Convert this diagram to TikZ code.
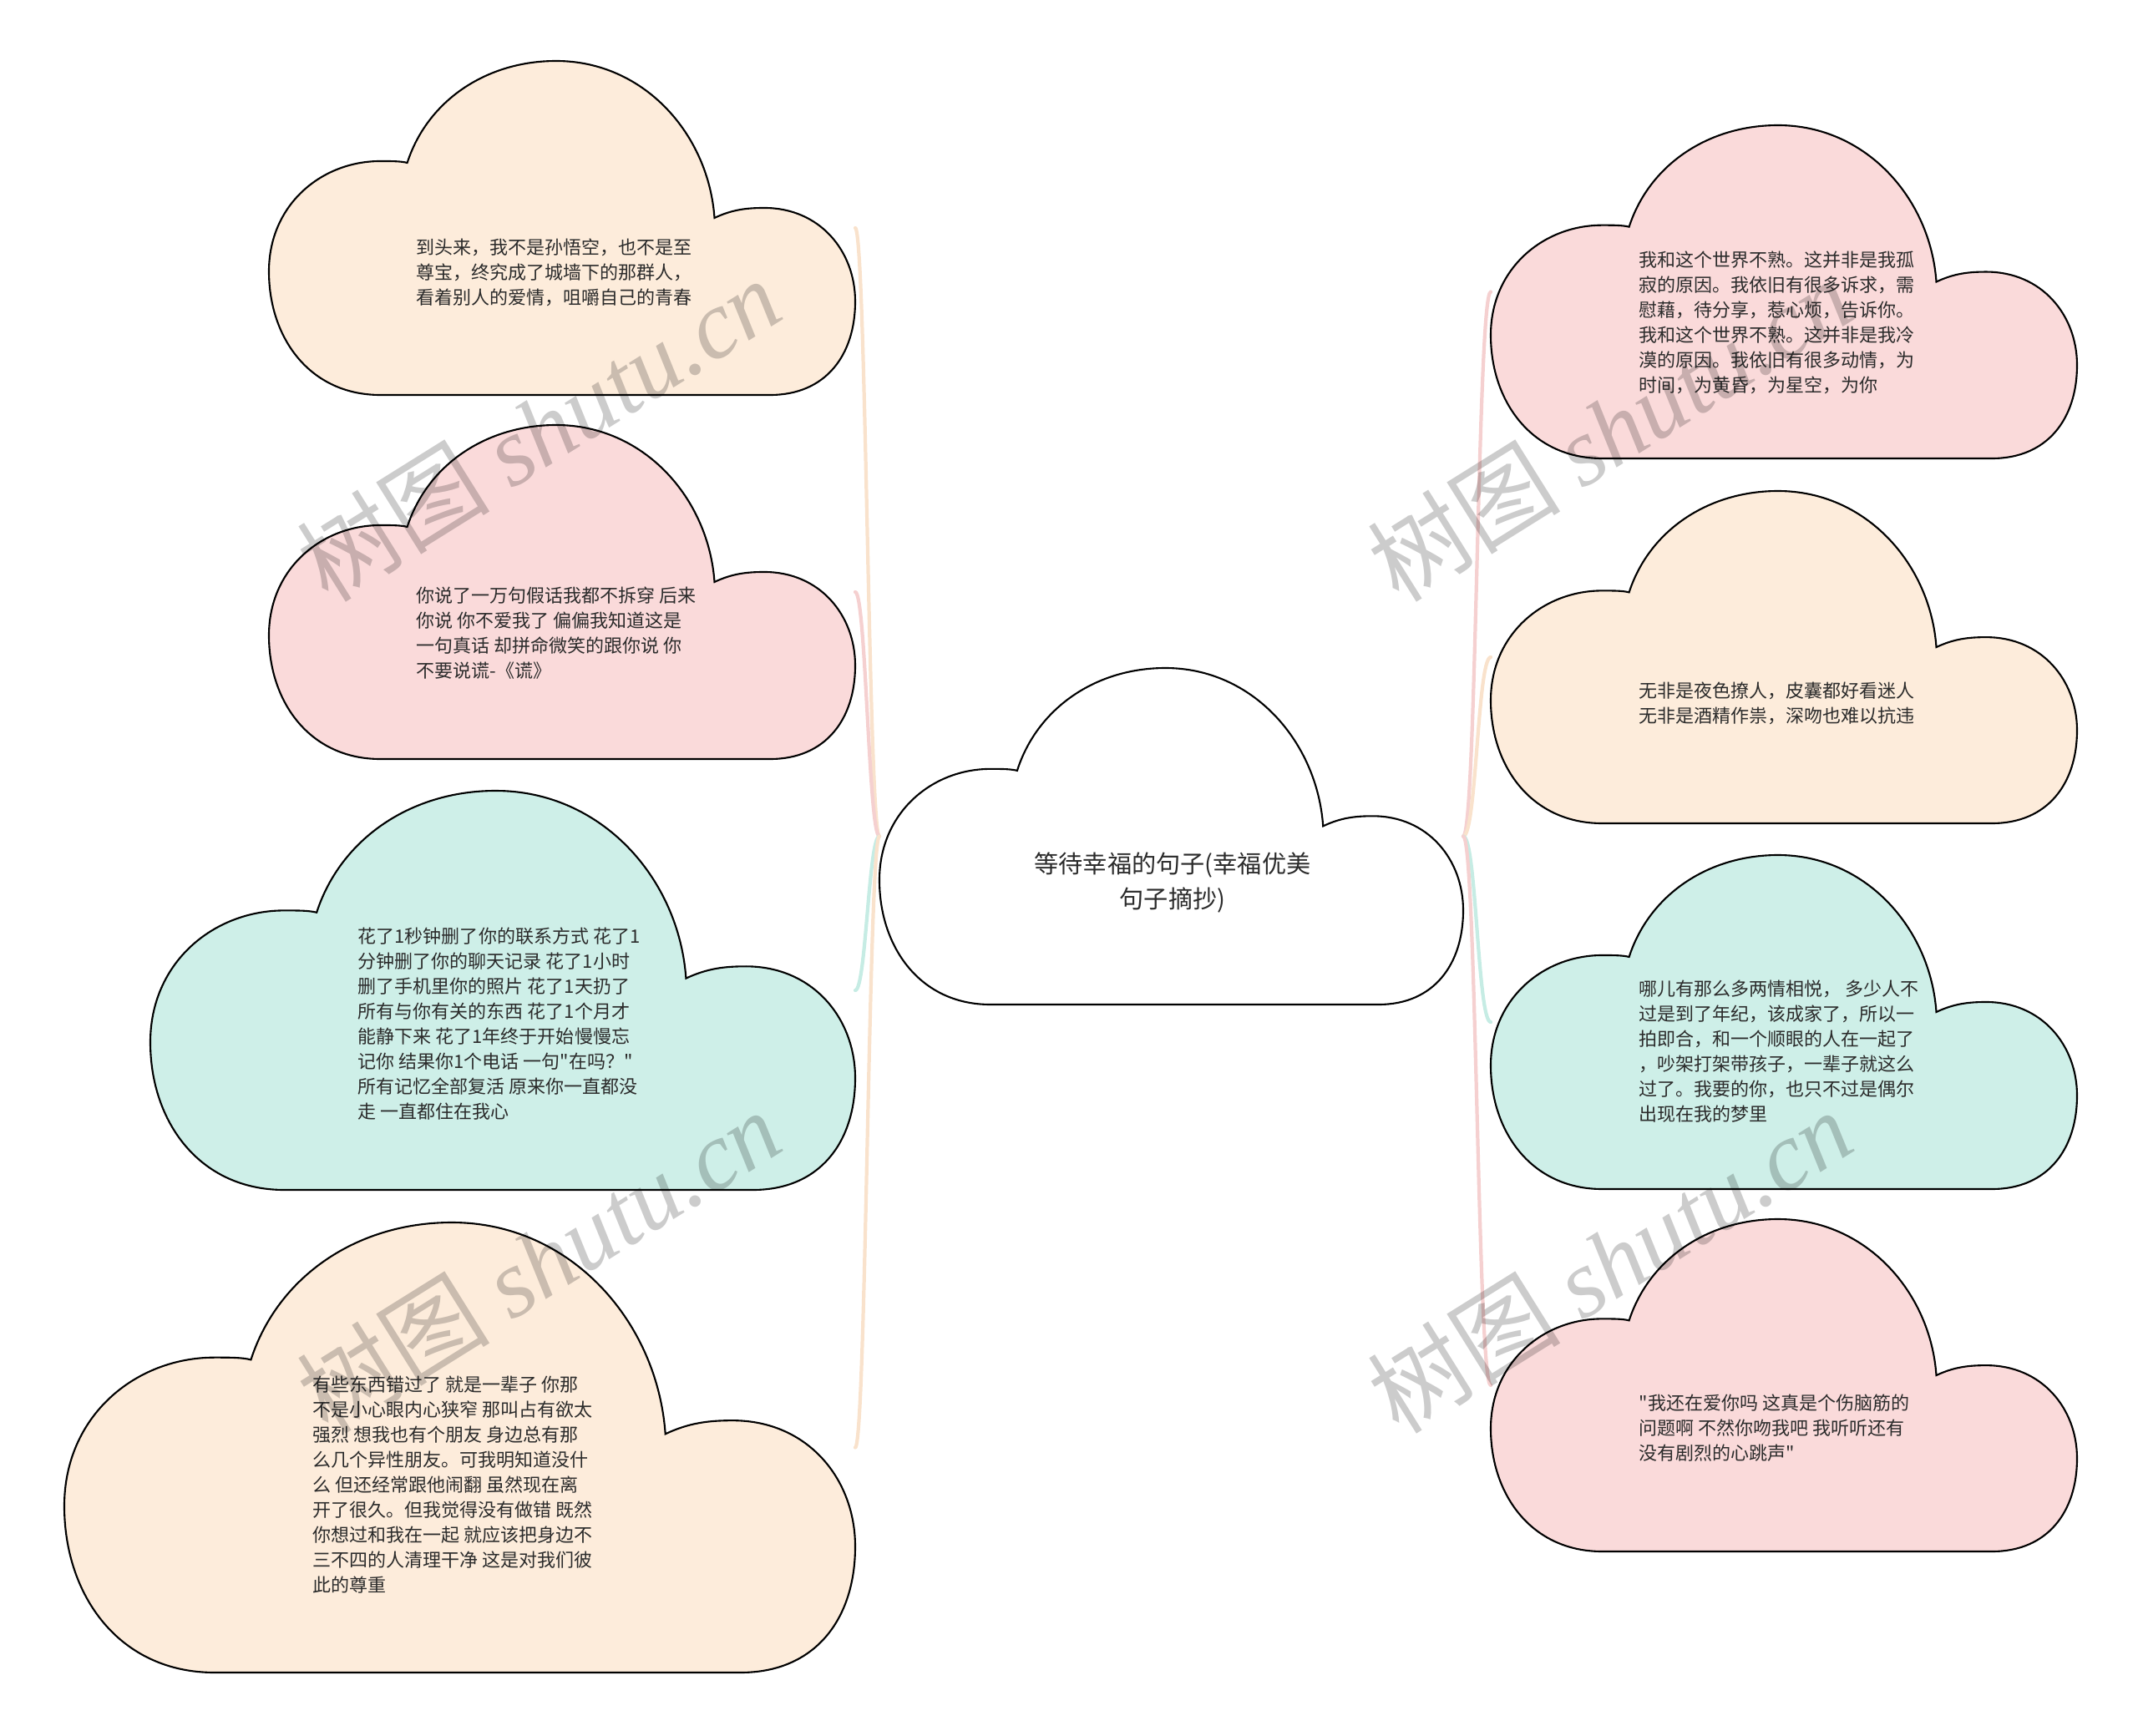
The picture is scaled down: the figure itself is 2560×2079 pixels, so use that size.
\documentclass[tikz,border=0pt]{standalone}
\usepackage{fontspec}
\newfontfamily\cjk{Noto Sans CJK SC}
\newfontfamily\wmserif{Liberation Serif}
\definecolor{peachfill}{HTML}{FDECDB}
\definecolor{pinkfill}{HTML}{FADADA}
\definecolor{tealfill}{HTML}{CEEFE8}
\definecolor{peachline}{HTML}{F9E2CC}
\definecolor{pinkline}{HTML}{F5D0D0}
\definecolor{tealline}{HTML}{C6ECE4}
\definecolor{textgray}{HTML}{2B2B2B}
\tikzset{
  txt/.style={font=\cjk\fontsize{6.26}{8.54}\selectfont, text=textgray, align=left, inner sep=0pt, anchor=west},
  roottxt/.style={font=\cjk\fontsize{8.3}{11.7}\selectfont, text=textgray, align=center, inner sep=0pt},
  conn/.style={line width=1.2pt, line cap=round},
  wm/.style={font=\cjk\fontsize{33}{38}\selectfont, text=black, text opacity=0.2, inner sep=0pt, rotate=32},
  frame/.style={inner sep=0pt, outer sep=0pt}
}
% cloud outline: #1 x, #2 y (top-left), #3 width, #4 height, #5 fill
\newcommand\cloudshape[5]{%
  \begin{scope}[shift={(#1,#2)}, xscale=#3, yscale=#4]
    \path[fill=#5, draw=black, line width=0.6pt]
      (0.236,0.305) .. controls (0.27,0.12) and (0.37,0) .. (0.49,0)
      .. controls (0.64,0) and (0.75,0.22) .. (0.76,0.47)
      .. controls (0.79,0.445) and (0.815,0.44) .. (0.845,0.44)
      .. controls (0.94,0.44) and (1,0.57) .. (1,0.72)
      .. controls (1,0.88) and (0.95,1) .. (0.855,1)
      -- (0.19,1)
      .. controls (0.07,1) and (0,0.83) .. (0,0.63)
      .. controls (0,0.43) and (0.09,0.30) .. (0.19,0.30)
      .. controls (0.21,0.30) and (0.225,0.30) .. (0.236,0.305) -- cycle;
  \end{scope}}
% named cloud: #1 name, #2 x, #3 y, #4 w, #5 h, #6 fill
\newcommand\cloudbox[6]{%
  \cloudshape{#2}{#3}{#4}{#5}{#6}
  \node[frame, minimum width={#4*0.01cm}, minimum height={#5*0.01cm}] (#1) at ({#2+#4/2},{#3+#5/2}) {};}
\begin{document}
\begin{tikzpicture}[x=0.01cm, y=-0.01cm]
\useasboundingbox (0,0) rectangle (2560,2079);
% clouds
\cloudbox{root}{1053}{800}{699}{403}{white}
\cloudbox{A}{322}{73}{702}{400}{peachfill}
\cloudbox{B}{322}{509}{702}{400}{pinkfill}
\cloudbox{C}{180}{947}{844}{478}{tealfill}
\cloudbox{D}{77}{1464}{947}{539}{peachfill}
\cloudbox{E}{1785}{150}{702}{399}{pinkfill}
\cloudbox{F}{1785}{588}{702}{398}{peachfill}
\cloudbox{G}{1785}{1024}{702}{400}{tealfill}
\cloudbox{H}{1785}{1460}{702}{398}{pinkfill}
% connectors
\draw[conn, draw=peachline] (root.west) .. controls +(-13,0) and +(13,0) .. (A.east);
\draw[conn, draw=pinkline]  (root.west) .. controls +(-13,0) and +(13,0) .. (B.east);
\draw[conn, draw=tealline]  (root.west) .. controls +(-13,0) and +(13,0) .. (C.east);
\draw[conn, draw=peachline] (root.west) .. controls +(-13,0) and +(13,0) .. (D.east);
\draw[conn, draw=pinkline]  (root.east) .. controls +(16,0) and +(-16,0) .. (E.west);
\draw[conn, draw=peachline] (root.east) .. controls +(16,0) and +(-16,0) .. (F.west);
\draw[conn, draw=tealline]  (root.east) .. controls +(16,0) and +(-16,0) .. (G.west);
\draw[conn, draw=pinkline]  (root.east) .. controls +(16,0) and +(-16,0) .. (H.west);
% texts
\node[roottxt] (root-t) at (1404,1057) {等待幸福的句子(幸福优美\\句子摘抄)};
\node[txt] (A-t) at (498,326) {到头来，我不是孙悟空，也不是至\\尊宝，终究成了城墙下的那群人，\\看着别人的爱情，咀嚼自己的青春};
\node[txt] (B-t) at (498,758) {你说了一万句假话我都不拆穿 后来\\你说 你不爱我了 偏偏我知道这是\\一句真话 却拼命微笑的跟你说 你\\不要说谎-《谎》};
\node[txt] (C-t) at (428,1226) {花了1秒钟删了你的联系方式 花了1\\分钟删了你的聊天记录 花了1小时\\删了手机里你的照片 花了1天扔了\\所有与你有关的东西 花了1个月才\\能静下来 花了1年终于开始慢慢忘\\记你 结果你1个电话 一句"在吗？"\\所有记忆全部复活 原来你一直都没\\走 一直都住在我心};
\node[txt] (D-t) at (374,1778) {有些东西错过了 就是一辈子 你那\\不是小心眼内心狭窄 那叫占有欲太\\强烈 想我也有个朋友 身边总有那\\么几个异性朋友。可我明知道没什\\么 但还经常跟他闹翻 虽然现在离\\开了很久。但我觉得没有做错 既然\\你想过和我在一起 就应该把身边不\\三不四的人清理干净 这是对我们彼\\此的尊重};
\node[txt] (E-t) at (1962,386) {我和这个世界不熟。这并非是我孤\\寂的原因。我依旧有很多诉求，需\\慰藉，待分享，惹心烦，告诉你。\\我和这个世界不熟。这并非是我冷\\漠的原因。我依旧有很多动情，为\\时间，为黄昏，为星空，为你};
\node[txt] (F-t) at (1962,842) {无非是夜色撩人，皮囊都好看迷人\\无非是酒精作祟，深吻也难以抗违};
\node[txt] (G-t) at (1962,1259) {哪儿有那么多两情相悦， 多少人不\\过是到了年纪，该成家了，所以一\\拍即合，和一个顺眼的人在一起了\\，吵架打架带孩子，一辈子就这么\\过了。我要的你，也只不过是偶尔\\出现在我的梦里};
\node[txt] (H-t) at (1962,1710) {"我还在爱你吗 这真是个伤脑筋的\\问题啊 不然你吻我吧 我听听还有\\没有剧烈的心跳声"};
% watermarks
\node[wm] (wm1) at (645,514) {树图 {\wmserif\itshape shutu.cn}};
\node[wm] (wm2) at (645,1510) {树图 {\wmserif\itshape shutu.cn}};
\node[wm] (wm3) at (1927,514) {树图 {\wmserif\itshape shutu.cn}};
\node[wm] (wm4) at (1927,1510) {树图 {\wmserif\itshape shutu.cn}};
\end{tikzpicture}
\end{document}
